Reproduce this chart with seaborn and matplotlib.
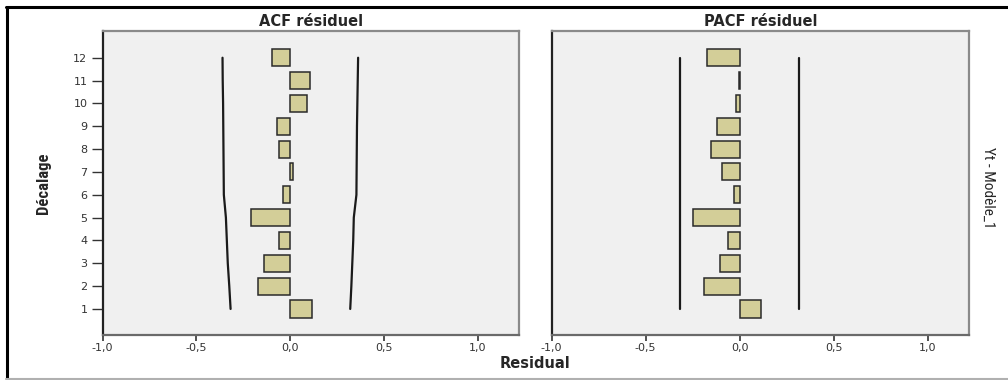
import matplotlib
matplotlib.use("Agg")
import matplotlib.pyplot as plt
import seaborn as sns
import numpy as np
import pandas as pd
from matplotlib.lines import Line2D
import logging
logging.getLogger("matplotlib.font_manager").setLevel(logging.ERROR)

# ---- data ----
lags = list(range(1, 13))
acf_values = [0.115, -0.170, -0.138, -0.058, -0.208, -0.036, 0.017, -0.060, -0.070, 0.090, 0.103, -0.096]
acf_upper = [0.320, 0.326, 0.331, 0.336, 0.339, 0.353, 0.354, 0.355, 0.356, 0.358, 0.360, 0.362]
acf_lower = [-0.318, -0.325, -0.333, -0.338, -0.343, -0.354, -0.355, -0.356, -0.357, -0.358, -0.360, -0.361]
pacf_values = [0.113, -0.188, -0.105, -0.062, -0.250, -0.032, -0.096, -0.151, -0.119, -0.020, -0.005, -0.174]
pacf_upper = [0.318] * 12
pacf_lower = [-0.320] * 12
xticks = [-1.0, -0.5, 0.0, 0.5, 1.0]
xtick_labels = ["-1,0", "-0,5", "0,0", "0,5", "1,0"]
panel_titles = ["ACF résiduel", "PACF résiduel"]

sns.set_theme(style="white")
plt.rcParams['font.family'] = ['DejaVu Sans']

narrow = ["Liberation Sans Narrow", "DejaVu Sans Condensed", "Roboto Condensed", "Roboto", "DejaVu Sans"]

W, H = 1008, 380
fig = plt.figure(figsize=(W / 100, H / 100), dpi=100)

bar_color = "#D3CE98"
bg = "#F0F0F0"

def fx(px):
    return px / W

def fy(py):
    return 1 - py / H

panel_boxes = [(102.7, 519), (551.7, 969)]
top_px, bot_px = 31, 335

panels = [
    (acf_values, acf_upper, acf_lower),
    (pacf_values, pacf_upper, pacf_lower),
]

axes = []
for i, ((l, r), (vals, up, lo)) in enumerate(zip(panel_boxes, panels)):
    ax = fig.add_axes([fx(l), fy(bot_px), fx(r - l), fy(top_px) - fy(bot_px)])
    axes.append(ax)
    ax.set_facecolor(bg)
    df = pd.DataFrame({"lag": lags, "value": vals})
    sns.barplot(data=df, x="value", y="lag", orient="h", native_scale=True,
                width=0.75, color=bar_color, saturation=1,
                edgecolor="#2a2a2a", linewidth=1.1, ax=ax, errorbar=None)
    dfl = pd.DataFrame({"lag": lags, "up": up, "lo": lo})
    sns.lineplot(data=dfl, x="up", y="lag", orient="y", estimator=None, sort=False,
                 color="#1a1a1a", linewidth=1.6, ax=ax)
    sns.lineplot(data=dfl, x="lo", y="lag", orient="y", estimator=None, sort=False,
                 color="#1a1a1a", linewidth=1.6, ax=ax)
    ax.set_xlim(-1.0, 1.22)
    ax.set_ylim(-0.14, 13.17)
    ax.set_xticks(xticks)
    ax.set_xticklabels(xtick_labels)
    ax.tick_params(axis="x", direction="out", length=4, width=1.2, color="#333333",
                   labelsize=8, labelcolor="#333333", pad=2, bottom=True)
    if i == 0:
        ax.set_yticks(lags)
        ax.set_yticklabels([str(v) for v in lags])
        ax.tick_params(axis="y", direction="out", length=8, width=1.0, color="#333333",
                       labelsize=8, labelcolor="#333333", pad=3, left=True)
    else:
        ax.set_yticks([])
    ax.set_xlabel("")
    ax.set_ylabel("")
    for side in ["top", "right"]:
        ax.spines[side].set_color("#8a8a8a")
        ax.spines[side].set_linewidth(1.6)
    ax.spines["left"].set_color("#222222")
    ax.spines["left"].set_linewidth(1.6)
    ax.spines["bottom"].set_color("#6a6a6a")
    ax.spines["bottom"].set_linewidth(1.6)
    ax.set_title(panel_titles[i], fontsize=10.5, fontweight="bold", pad=3.5)

# shared labels
fig.text(fx(535), fy(363), "Residual", ha="center", va="center",
         fontsize=10.5, fontweight="bold")
fig.text(fx(43), fy(183), "Décalage", ha="center", va="center", rotation=90,
         fontsize=12, fontweight="bold", family=narrow)
fig.text(fx(988), fy(188), "Yt - Modèle_1", ha="center", va="center", rotation=-90,
         fontsize=11, family=narrow)

# outer frame
fig.add_artist(Line2D([fx(6), 1.0], [fy(7), fy(7)], color="black", linewidth=2.2,
                      transform=fig.transFigure))
fig.add_artist(Line2D([fx(7), fx(7)], [fy(7), fy(379)], color="black", linewidth=2.2,
                      transform=fig.transFigure))
fig.add_artist(Line2D([fx(6), 1.0], [fy(378.5), fy(378.5)], color="#b0b0b0", linewidth=1.5,
                      transform=fig.transFigure))

fig.savefig("out.png", dpi=100, facecolor="white")
